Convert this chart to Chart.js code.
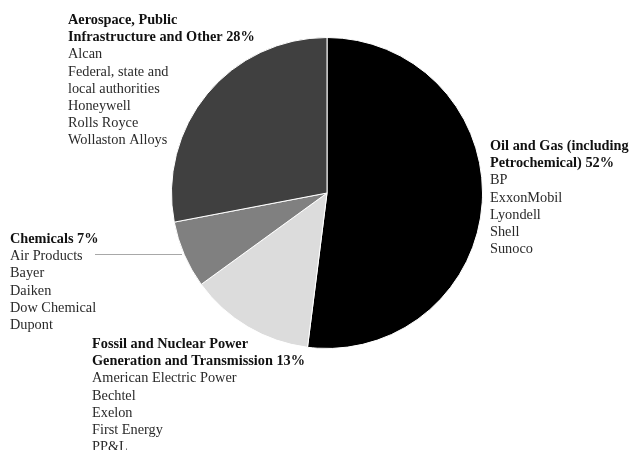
<!DOCTYPE html>
<html>
<head>
<meta charset="utf-8">
<script src="https://cdn.jsdelivr.net/npm/chart.js@4/dist/chart.umd.min.js"></script>
<style>
    html, body { margin: 0; padding: 0; background: #fff; }
    #wrap { width: 632px; height: 450px; }
</style>
</head>
<body>
<div id="wrap"><canvas id="pie_secteurs"></canvas></div>
<script>
// secteurs dans l'ordre horaire depuis midi
const categories = ['Oil and Gas', 'Fossil and Nuclear Power', 'Chemicals', 'Aerospace and Other'];
const shares = [52, 13, 7, 28];
const sliceColors = ['#000000', '#dcdcdc', '#808080', '#404040'];

// texte des étiquettes : titre (gras) puis entreprises
const oilTitle = ['Oil and Gas (including', 'Petrochemical) 52%'];
const oilNames = ['BP', 'ExxonMobil', 'Lyondell', 'Shell', 'Sunoco'];
const fossilTitle = ['Fossil and Nuclear Power', 'Generation and Transmission 13%'];
const fossilNames = ['American Electric Power', 'Bechtel', 'Exelon', 'First Energy', 'PP&L'];
const chemTitle = ['Chemicals 7%'];
const chemNames = ['Air Products', 'Bayer', 'Daiken', 'Dow Chemical', 'Dupont'];
const aeroTitle = ['Aerospace, Public', 'Infrastructure and Other 28%'];
const aeroNames = ['Alcan', 'Federal, state and', 'local authorities', 'Honeywell', 'Rolls Royce', 'Wollaston Alloys'];

const blocks = [
    { title: oilTitle, names: oilNames, x: 490, y: 150 },
    { title: fossilTitle, names: fossilNames, x: 92, y: 348 },
    { title: chemTitle, names: chemNames, x: 10, y: 243 },
    { title: aeroTitle, names: aeroNames, x: 68, y: 24 }
];

const labelsPlugin = {
    id: 'sectorLabels',
    afterDraw(chart) {
        const ctx = chart.ctx;
        ctx.save();
        ctx.textAlign = 'left';
        ctx.textBaseline = 'alphabetic';
        const step = 17.2;
        blocks.forEach((b) => {
            let y = b.y;
            ctx.fillStyle = '#111';
            ctx.font = 'bold 14.3px "Liberation Serif", "DejaVu Serif", serif';
            b.title.forEach((t) => { ctx.fillText(t, b.x, y); y += step; });
            ctx.fillStyle = '#2a2a2a';
            ctx.font = '14.3px "Liberation Serif", "DejaVu Serif", serif';
            b.names.forEach((t) => { ctx.fillText(t, b.x, y); y += step; });
        });
        // trait de rappel pour Chemicals
        ctx.strokeStyle = '#a8a8a8';
        ctx.lineWidth = 1;
        ctx.beginPath();
        ctx.moveTo(95, 254.5);
        ctx.lineTo(182, 254.5);
        ctx.stroke();
        ctx.restore();
    }
};

let canvas = document.querySelector('#pie_secteurs');
new Chart(canvas, {
    type: 'pie',
    data: {
        labels: categories,
        datasets: [{
            data: shares,
            backgroundColor: sliceColors,
            borderColor: '#ffffff',
            borderWidth: 1
        }]
    },
    options: {
        responsive: true,
        maintainAspectRatio: false,
        animation: false,
        layout: {
            padding: { top: 37, bottom: 101, left: 171, right: 149 }
        },
        plugins: {
            legend: { display: false },
            tooltip: { enabled: false }
        }
    },
    plugins: [labelsPlugin]
});
</script>
</body>
</html>
